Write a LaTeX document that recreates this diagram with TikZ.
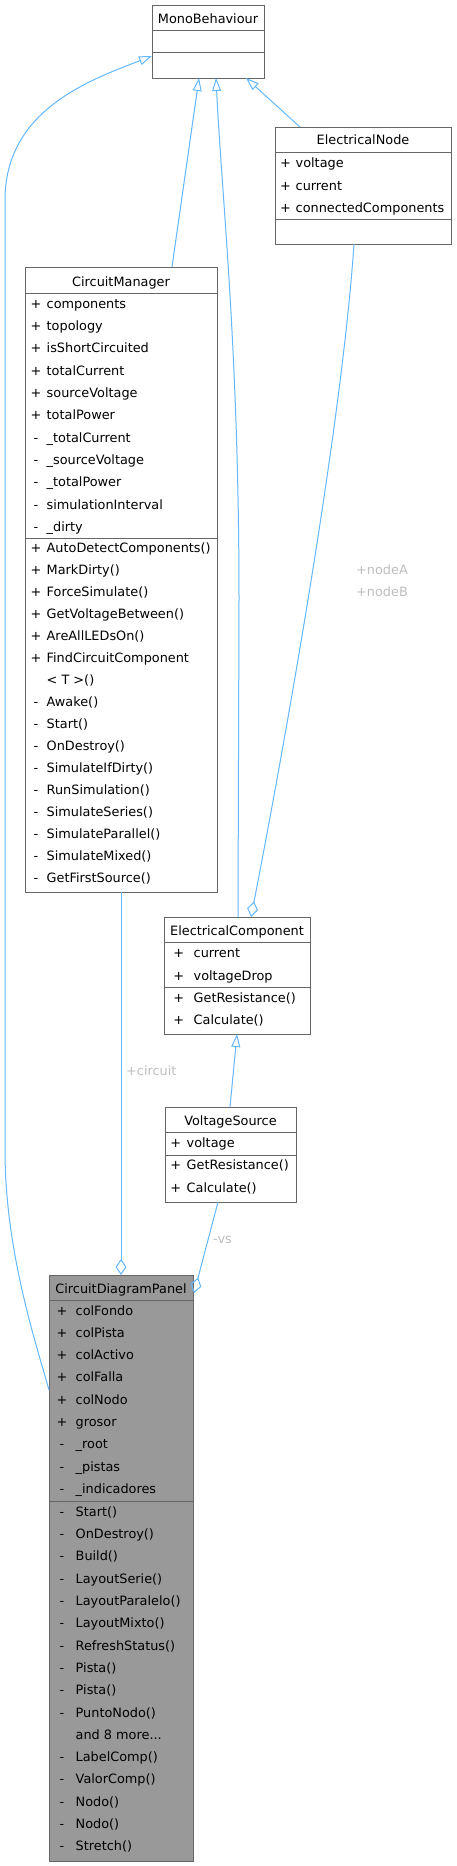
\documentclass[tikz,border=0pt]{standalone}
\usepackage{fontspec}
\setmainfont{DejaVu Sans}
\usetikzlibrary{arrows.meta,calc}
\definecolor{edgeblue}{HTML}{63B8FF}
\definecolor{boxline}{HTML}{666666}
\definecolor{lblgrey}{HTML}{BEBEBE}
\definecolor{curfill}{HTML}{999999}
\begin{document}
\begin{tikzpicture}[x=1pt,y=-1pt,font=\fontsize{12.85}{15}\selectfont,
  classbox/.style={draw=boxline,line width=1pt,fill=white,rectangle,inner sep=0pt,outer sep=0pt,anchor=north west},
  divider/.style={draw=boxline,line width=1pt},
  vis/.style={anchor=base,inner sep=0pt},
  mem/.style={anchor=base west,inner sep=0pt},
  ttl/.style={anchor=base,inner sep=0pt},
  inh/.style={draw=edgeblue,line width=1pt,-{Triangle[open,length=13pt,width=9pt]}},
  agg/.style={draw=edgeblue,line width=1pt,-{Diamond[open,length=16pt,width=11pt]}},
  elabel/.style={text=lblgrey,inner sep=0pt,anchor=base west}]
\useasboundingbox (0,0) rectangle (456,1866);
\fill[white] (0,0) rectangle (456,1866);

% MonoBehaviour
\node[classbox,minimum width=112pt,minimum height=73pt] (mono) at (152,5) {};
\draw[divider] (152,30) -- (264,30);
\draw[divider] (152,52) -- (264,52);
\node[ttl] (monot) at (208,23.5) {MonoBehaviour};

% ElectricalNode
\node[classbox,minimum width=176pt,minimum height=117pt] (en) at (275,127) {};
\draw[divider] (275,152) -- (451,152);
\draw[divider] (275,219) -- (451,219);
\node[ttl] (ent) at (363,144.5) {ElectricalNode};
\foreach \t/\yy [count=\i] in {voltage/167,current/190,connectedComponents/212}{
  \node[vis] (env\i) at (285.5,\yy) {+};
  \node[mem] (ena\i) at (295.5,\yy) {\t};
}

% CircuitManager
\node[classbox,minimum width=192pt,minimum height=625pt] (cm) at (25,267) {};
\draw[divider] (25,293) -- (217,293);
\draw[divider] (25,538) -- (217,538);
\node[ttl] (cmt) at (121,286.5) {CircuitManager};
\foreach \v/\t [count=\i] in {+/components,+/topology,+/isShortCircuited,+/totalCurrent,+/sourceVoltage,+/totalPower,-/\_totalCurrent,-/\_sourceVoltage,-/\_totalPower,-/simulationInterval,-/\_dirty}{
  \node[vis] (cmav\i) at ({36},{308.3+22.3*(\i-1)}) {\v};
  \node[mem] (cma\i) at ({46.5},{308.3+22.3*(\i-1)}) {\t};
}
\foreach \v/\t [count=\i] in {+/AutoDetectComponents(),+/MarkDirty(),+/ForceSimulate(),+/GetVoltageBetween(),+/AreAllLEDsOn(),+/FindCircuitComponent,{}/{< T >()},-/Awake(),-/Start(),-/OnDestroy(),-/SimulateIfDirty(),-/RunSimulation(),-/SimulateSeries(),-/SimulateParallel(),-/SimulateMixed(),-/GetFirstSource()}{
  \node[vis] (cmmv\i) at ({36},{552.5+22*(\i-1)}) {\v};
  \node[mem] (cmm\i) at ({46.5},{552.5+22*(\i-1)}) {\t};
}

% ElectricalComponent
\node[classbox,minimum width=146pt,minimum height=117pt] (ec) at (164,917) {};
\draw[divider] (164,942) -- (310,942);
\draw[divider] (164,987) -- (310,987);
\node[ttl] (ect) at (237,935.5) {ElectricalComponent};
\foreach \t/\yy [count=\i] in {current/957,voltageDrop/980,GetResistance()/1002,Calculate()/1024}{
  \node[vis] (ecv\i) at (178.7,\yy) {+};
  \node[mem] (eca\i) at (193.5,\yy) {\t};
}

% VoltageSource
\node[classbox,minimum width=131pt,minimum height=95pt] (vs) at (165,1107) {};
\draw[divider] (165,1132) -- (296,1132);
\draw[divider] (165,1155) -- (296,1155);
\node[ttl] (vst) at (230.5,1125.5) {VoltageSource};
\foreach \t/\yy [count=\i] in {voltage/1147,GetResistance()/1169,Calculate()/1192}{
  \node[vis] (vsv\i) at (175.7,\yy) {+};
  \node[mem] (vsa\i) at (186.5,\yy) {\t};
}

% CircuitDiagramPanel
\node[classbox,fill=curfill,minimum width=144pt,minimum height=586pt] (cdp) at (49,1275) {};
\draw[divider] (49,1300) -- (193,1300);
\draw[divider] (49,1501) -- (193,1501);
\node[ttl] (cdpt) at (121,1293) {CircuitDiagramPanel};
\foreach \v/\t [count=\i] in {+/colFondo,+/colPista,+/colActivo,+/colFalla,+/colNodo,+/grosor,-/\_root,-/\_pistas,-/\_indicadores}{
  \node[vis] (cdpav\i) at ({62},{1315+22.3*(\i-1)}) {\v};
  \node[mem] (cdpa\i) at ({75.5},{1315+22.3*(\i-1)}) {\t};
}
\foreach \v/\t [count=\i] in {-/Start(),-/OnDestroy(),-/Build(),-/LayoutSerie(),-/LayoutParalelo(),-/LayoutMixto(),-/RefreshStatus(),-/Pista(),-/Pista(),-/PuntoNodo(),{}/{and 8 more...},-/LabelComp(),-/ValorComp(),-/Nodo(),-/Nodo(),-/Stretch()}{
  \node[vis] (cdpmv\i) at ({62},{1516.3+22.3*(\i-1)}) {\v};
  \node[mem] (cdpm\i) at ({75.5},{1516.3+22.3*(\i-1)}) {\t};
}

% connectors
\draw[inh] ($(cdp.north west)+(0,115)$) .. controls (35,1340) and (5,1250) .. (5,1150) -- (5,200) .. controls (5,110) and (90,80) .. ($(mono.north west)+(0,51)$);
\draw[inh] ($(cm.north west)+(147,0)$) -- ($(mono.south west)+(47,0)$);
\draw[inh] ($(ec.north west)+(74,0)$) -- (239,600) .. controls (239,350) and (222,200) .. ($(mono.south west)+(64,0)$);
\draw[inh] ($(en.north west)+(25,0)$) -- ($(mono.south west)+(94,0)$);
\draw[inh] ($(vs.north west)+(65,0)$) -- ($(ec.south west)+(73,0)$);
\draw[agg] ($(en.south west)+(79,0)$) .. controls (340,450) and (270,820) .. ($(ec.north west)+(87,0)$);
\draw[agg] (cm.south) -- (cdp.north);
\draw[agg] ($(vs.south west)+(53,0)$) -- ($(cdp.north east)+(1,18)$);

% labels
\node[elabel,anchor=base] (lnodea) at (382,574) {+nodeA};
\node[elabel,anchor=base] (lnodeb) at (382,596) {+nodeB};
\node[elabel] (lcircuit) at (126,1075) {+circuit};
\node[elabel] (lvs) at (213,1243) {-vs};
\end{tikzpicture}
\end{document}
